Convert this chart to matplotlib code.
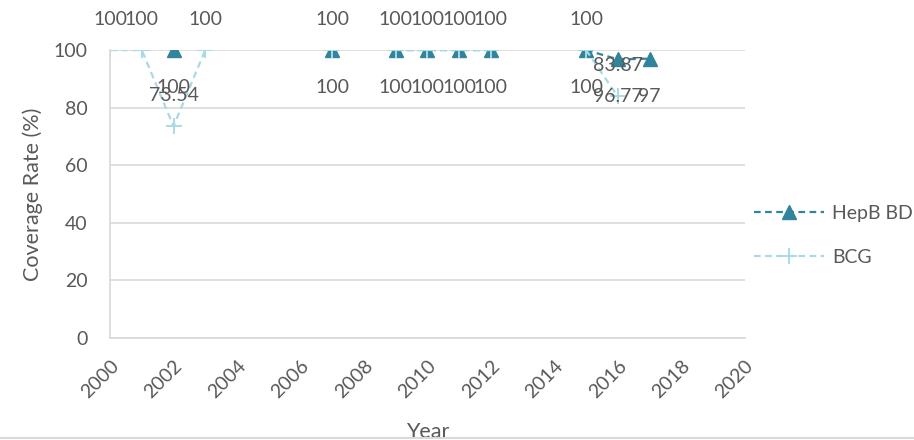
import matplotlib.pyplot as plt
import numpy as np

plt.rcParams['font.family'] = ['Lato', 'DejaVu Sans']

# Data (NaN = no value that year)
years = np.arange(2000, 2018)
hepb = [np.nan, np.nan, 100, np.nan, np.nan, np.nan, np.nan, 100, np.nan,
        100, 100, 100, 100, np.nan, np.nan, 100, 96.77, 97]
bcg = [100, 100, 73.54, 100, np.nan, np.nan, np.nan, 100, np.nan,
       100, 100, 100, 100, np.nan, np.nan, 100, 83.87, np.nan]

hepb_color = "#31849B"
bcg_color = "#A8DAE6"
text_color = "#595959"
grid_color = "#D9D9D9"

fig = plt.figure(figsize=(9.14, 4.4), dpi=100)
ax = fig.add_axes([0.1204, 0.2318, 0.6944, 0.6545])

ax.plot(years, hepb, linestyle='--', color=hepb_color, linewidth=1.6,
        marker='^', markersize=10, label='HepB BD', dashes=(3, 2))
ax.plot(years, bcg, linestyle='--', color=bcg_color, linewidth=1.6,
        marker='+', markersize=11, markeredgewidth=1.4, label='BCG', dashes=(3, 2))

# data labels: HepB below, BCG above
for x, v in zip(years, hepb):
    if not np.isnan(v):
        ax.annotate(f"{v:g}", (x, v), xytext=(0, -27), textcoords='offset points',
                    ha='center', va='center', fontsize=14, color=text_color)
for x, v in zip(years, bcg):
    if not np.isnan(v):
        ax.annotate(f"{v:g}", (x, v), xytext=(0, 22), textcoords='offset points',
                    ha='center', va='center', fontsize=14, color=text_color)

ax.set_xlim(2000, 2020)
ax.set_ylim(0, 100)
ax.set_xticks(range(2000, 2021, 2))
ax.set_yticks(range(0, 101, 20))
ax.grid(axis='y', color=grid_color, linewidth=1.2)
ax.set_axisbelow(True)
for s in ['top', 'right']:
    ax.spines[s].set_visible(False)
for s in ['left', 'bottom']:
    ax.spines[s].set_color(grid_color)
    ax.spines[s].set_linewidth(1.2)
ax.tick_params(length=0, labelsize=14, colors=text_color)
ax.tick_params(axis='y', pad=16)
ax.tick_params(axis='x', pad=14)
for lbl in ax.get_xticklabels():
    lbl.set_rotation(45)
    lbl.set_ha('right')
    lbl.set_rotation_mode('anchor')

ax.set_ylabel("Coverage Rate (%)", fontsize=15.5, color=text_color, labelpad=8)
ax.set_xlabel("Year", fontsize=15.5, color=text_color, labelpad=15)

ax.legend(loc='center left', bbox_to_anchor=(0.806, 0.465), bbox_transform=fig.transFigure,
          frameon=False, fontsize=14, labelcolor=text_color, handlelength=3.6,
          labelspacing=1.4, handletextpad=0.4)

fig.add_artist(plt.Line2D([0, 1], [0.004, 0.004], color=grid_color, linewidth=1.5))

fig.savefig("out.png", dpi=100)
